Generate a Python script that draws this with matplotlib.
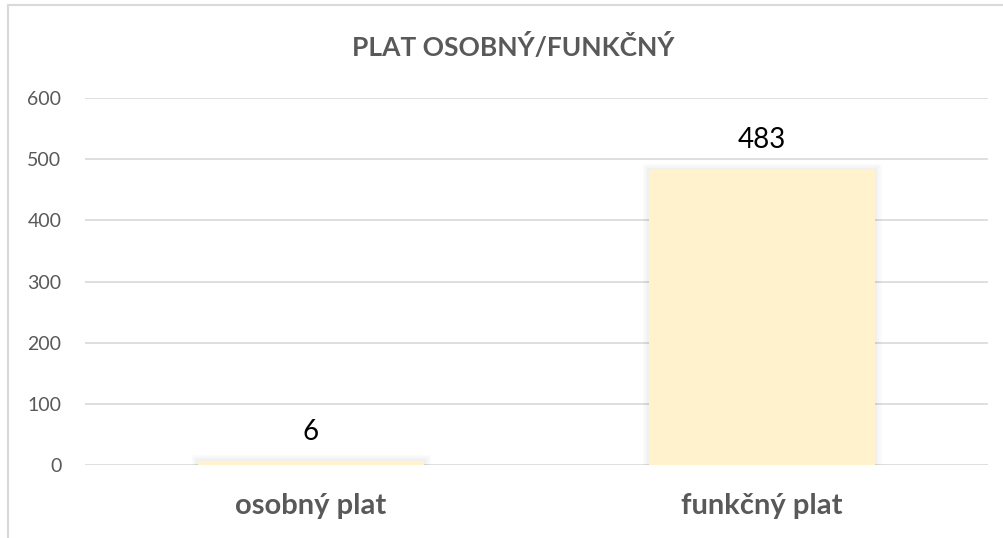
import matplotlib.pyplot as plt
import matplotlib.patheffects as pe
from matplotlib.lines import Line2D

categories = ['osobný plat', 'funkčný plat']
values = [6, 483]
yticks = [0, 100, 200, 300, 400, 500, 600]
title = 'PLAT OSOBNÝ/FUNKČNÝ'

plt.rcParams['font.family'] = ['Lato', 'DejaVu Sans']

fig = plt.figure(figsize=(10.04, 5.38), dpi=100)
ax = fig.add_axes([0.0847, 0.1357, 0.8993, 0.6821])

x = range(len(categories))
shadow = [pe.Stroke(linewidth=lw, foreground='black', alpha=0.02) for lw in (9, 6, 3)]
bars = ax.bar(x, values, width=0.5, color='#FFF2CC', zorder=3,
              path_effects=shadow + [pe.Normal()])

for xi, v in zip(x, values):
    ax.annotate(str(v), (xi, v), xytext=(0, 12), textcoords='offset points',
                ha='center', va='bottom', fontsize=20, color='black')

ax.set_xlim(-0.5, 1.5)
ax.set_ylim(0, 600)
ax.set_yticks(yticks)
ax.set_xticks(list(x))
ax.set_xticklabels(categories, fontsize=21, fontweight='bold', color='#595959')
ax.tick_params(axis='y', length=0, pad=17, labelsize=14, labelcolor='#595959')
ax.tick_params(axis='x', length=0, pad=20)
ax.grid(axis='y', color='#D9D9D9', linewidth=1.2, zorder=0)
for s in ax.spines.values():
    s.set_visible(False)

fig.text(0.511, 0.913, title, ha='center', va='center', fontsize=19,
         fontweight='bold', color='#595959')

# chart area border (top and left edges visible)
fig.add_artist(Line2D([8 / 1004, 1.0], [1 - 5 / 538] * 2, color='#D9D9D9', linewidth=1.5))
fig.add_artist(Line2D([8 / 1004] * 2, [0, 1 - 5 / 538], color='#D9D9D9', linewidth=1.5))

fig.savefig('out.png', dpi=100)
